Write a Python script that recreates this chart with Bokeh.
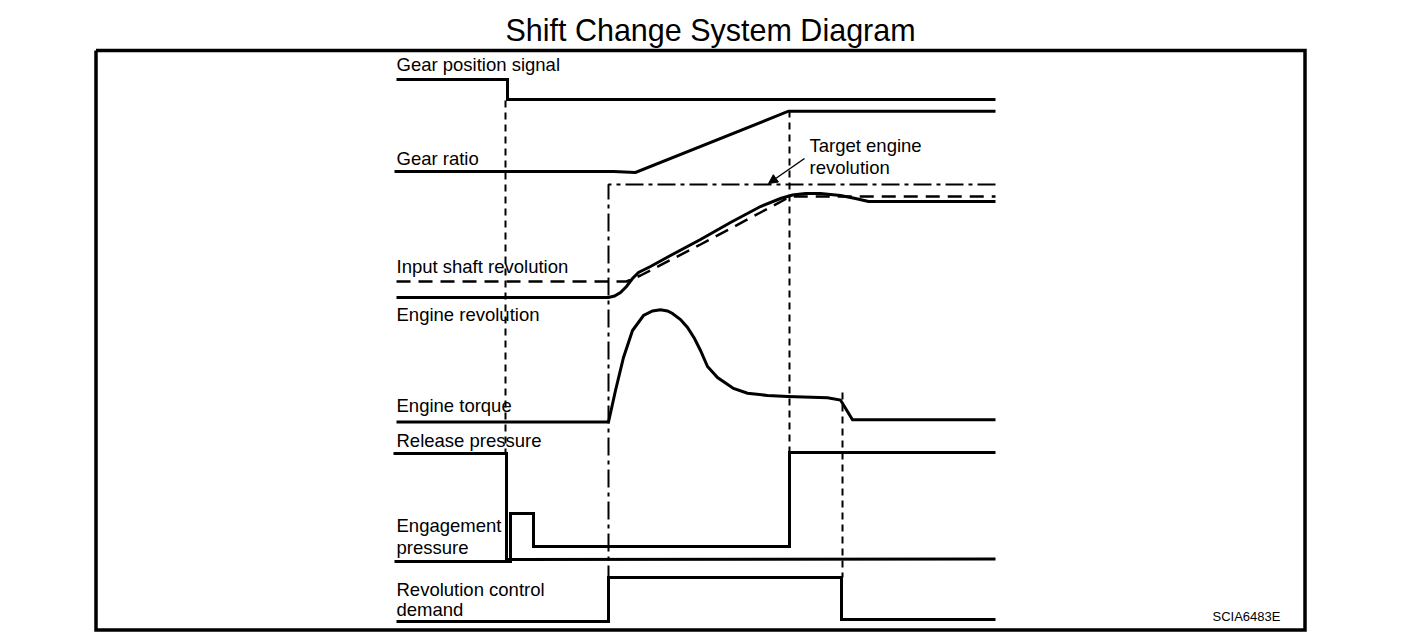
from bokeh.plotting import figure
from bokeh.models import Range1d, Arrow, NormalHead
from bokeh.core.properties import value
from bokeh.embed import file_html
from bokeh.resources import INLINE

# ---- Diagram data (picture pixel space, y downward) ----
title_text = "Shift Change System Diagram"

gear_pos_x = [396, 507, 507, 995]
gear_pos_y = [79, 79, 99, 99]

gear_ratio_x = [394, 613, 635, 788, 995]
gear_ratio_y = [171, 171, 172, 110.7, 110.7]

target_x = [995, 608, 608]
target_y = [184, 184, 577]

input_shaft_x = [396, 626, 640, 700, 760, 790, 995]
input_shaft_y = [281, 281, 275, 244, 212, 196, 196]

engine_rev_x = [396, 608, 614, 620, 626, 632, 638, 650, 670, 700, 730, 760, 780, 792, 805, 820, 840, 855, 868, 995]
engine_rev_y = [297, 297, 295.5, 292, 286, 278, 272, 266, 255, 239, 222, 206, 198, 194.5, 193, 193, 195, 198, 201, 201]

torque_x = [396, 608, 615, 623, 632, 643, 652, 660, 667, 672, 680, 687, 694, 700, 707, 717, 733, 747, 767, 787, 827, 840, 852, 995]
torque_y = [421.5, 421.5, 390, 357, 330, 315, 310.5, 309.3, 310.5, 313, 319, 327, 338, 350, 366, 377, 388, 392.7, 395, 396, 397.3, 399.5, 419.3, 419.3]

release_x = [393, 506, 506, 995]
release_y = [453, 453, 559, 558.5]

engage_x = [394, 510, 510, 533, 533, 789, 789, 995]
engage_y = [561, 561, 513, 513, 546, 546, 452, 452]

rev_ctrl_x = [396, 608, 608, 841, 841, 995]
rev_ctrl_y = [621, 621, 577, 577, 619, 619]

marker_x = [505, 789, 842]
marker_top = [100, 110, 392]
marker_bottom = [453, 452, 577]

labels = ["Gear position signal", "Gear ratio", "Input shaft revolution", "Engine revolution",
          "Engine torque", "Release pressure", "Engagement", "pressure",
          "Revolution control", "demand"]
label_x = [396] * 10
label_y = [63.5, 157.5, 266, 313.5, 405, 440, 525, 547, 588.5, 609]

target_labels = ["Target engine", "revolution"]
target_label_x = [809, 809]
target_label_y = [145, 167]

arrow_start = (804, 158)
arrow_end = (768, 183)

code_text = "SCIA6483E"

frame_x = [95.5, 1304.5, 1304.5, 95.5, 95.5]
frame_y = [50, 50, 629.5, 629.5, 50]

FONT = value("Liberation Sans")

p = figure(width=1392, height=632, output_backend="svg", toolbar_location=None,
           x_range=Range1d(0, 1392), y_range=Range1d(632, 0),
           min_border=0, min_border_left=0, min_border_right=0,
           min_border_top=0, min_border_bottom=0)
p.xaxis.visible = False
p.yaxis.visible = False
p.grid.visible = False
p.outline_line_color = None
p.background_fill_color = "white"
p.border_fill_color = "white"

# frame
p.line(frame_x, frame_y, line_color="black", line_width=3.5, line_join="miter")

# title
p.text(x=[710], y=[29], text=[title_text], text_font=FONT, text_font_size="30.5px",
       text_align="center", text_baseline="middle", text_color="black")

# reference marker lines (short dashes)
for mx, mt, mb in zip(marker_x, marker_top, marker_bottom):
    p.line([mx, mx], [mt, mb], line_color="black", line_width=2, line_dash="7 5")

# target engine revolution (dash-dot)
p.line(target_x, target_y, line_color="black", line_width=2, line_dash="18 5 4 5")

# input shaft (dashed)
p.line(input_shaft_x, input_shaft_y, line_color="black", line_width=2.5, line_dash="14 8")

# solid signals
for xs, ys in [(gear_pos_x, gear_pos_y), (gear_ratio_x, gear_ratio_y),
               (engine_rev_x, engine_rev_y), (torque_x, torque_y),
               (release_x, release_y), (engage_x, engage_y), (rev_ctrl_x, rev_ctrl_y)]:
    p.line(xs, ys, line_color="black", line_width=3, line_join="miter")

# labels
p.text(x=label_x, y=label_y, text=labels, text_font=FONT, text_font_size="18.5px",
       text_align="left", text_baseline="middle", text_color="black")
p.text(x=target_label_x, y=target_label_y, text=target_labels, text_font=FONT,
       text_font_size="18.5px", text_align="left", text_baseline="middle", text_color="black")

p.add_layout(Arrow(end=NormalHead(size=9, fill_color="black", line_color="black", line_width=1),
                   x_start=arrow_start[0], y_start=arrow_start[1],
                   x_end=arrow_end[0], y_end=arrow_end[1],
                   line_color="black", line_width=1.5))

p.text(x=[1212], y=[616], text=[code_text], text_font=FONT, text_font_size="13px",
       text_align="left", text_baseline="middle", text_color="black")

open("out.html", "w").write(file_html(p, INLINE))
